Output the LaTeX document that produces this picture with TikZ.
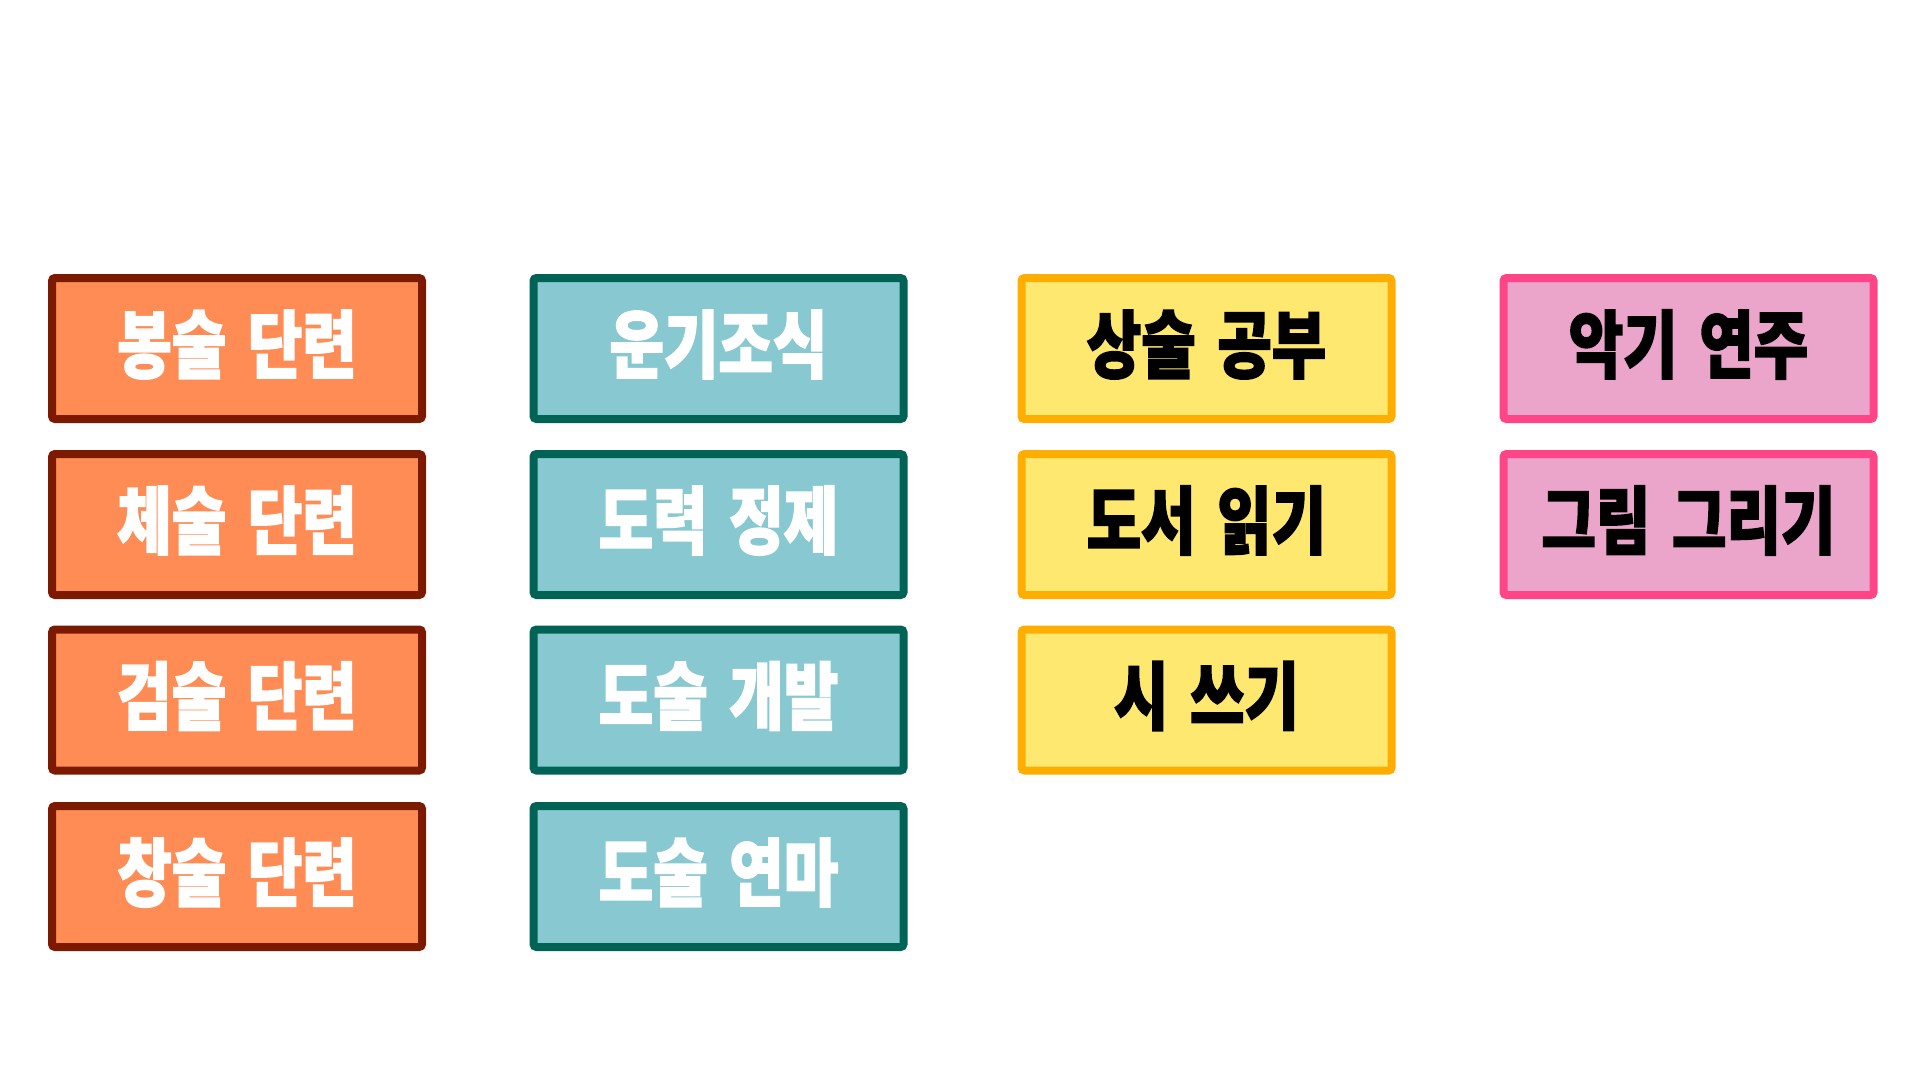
\documentclass[tikz,border=0pt]{standalone}
\usepackage{fontspec}
\newfontfamily\krfont{Noto Sans CJK KR}[FakeStretch=0.8, FakeBold=2, WordSpace=1.6]
\definecolor{orfill}{HTML}{FF8C55}
\definecolor{ordraw}{HTML}{7B1A00}
\definecolor{tlfill}{HTML}{88C9D1}
\definecolor{tldraw}{HTML}{006355}
\definecolor{ylfill}{HTML}{FFE870}
\definecolor{yldraw}{HTML}{FFAD00}
\definecolor{pkfill}{HTML}{EBA5CB}
\definecolor{pkdraw}{HTML}{FF4585}
\tikzset{
  card/.style={draw, line width=8pt, rounded corners=3pt, minimum width=370pt, minimum height=141pt, inner sep=0pt},
  cardtext/.style={inner sep=0pt, font=\krfont\bfseries\fontsize{74pt}{78pt}\selectfont, anchor=center},
  orcard/.style={card, fill=orfill, draw=ordraw},
  tlcard/.style={card, fill=tlfill, draw=tldraw},
  ylcard/.style={card, fill=ylfill, draw=yldraw},
  pkcard/.style={card, fill=pkfill, draw=pkdraw},
}
\newcommand{\cardat}[5]{%
  \node[#1] (#2) at (#3) {};
  \node[cardtext, text=#4] (#2t) at ([yshift=4pt]#2.center) {#5};
}
\begin{document}
\begin{tikzpicture}[x=1pt,y=-1pt]
\useasboundingbox (0,0) rectangle (1920,1080);
\cardat{orcard}{a1}{237,348.5}{white}{봉술 단련}
\cardat{orcard}{a2}{237,524.5}{white}{체술 단련}
\cardat{orcard}{a3}{237,700}{white}{검술 단련}
\cardat{orcard}{a4}{237,876.5}{white}{창술 단련}
\cardat{tlcard}{b1}{718.5,348.5}{white}{운기조식}
\cardat{tlcard}{b2}{718.5,524.5}{white}{도력 정제}
\cardat{tlcard}{b3}{718.5,700}{white}{도술 개발}
\cardat{tlcard}{b4}{718.5,876.5}{white}{도술 연마}
\cardat{ylcard}{c1}{1206.5,348.5}{black}{상술 공부}
\cardat{ylcard}{c2}{1206.5,524.5}{black}{도서 읽기}
\cardat{ylcard}{c3}{1206.5,700}{black}{시 쓰기}
\cardat{pkcard}{d1}{1688.5,348.5}{black}{악기 연주}
\cardat{pkcard}{d2}{1688.5,524.5}{black}{그림 그리기}
\end{tikzpicture}
\end{document}
